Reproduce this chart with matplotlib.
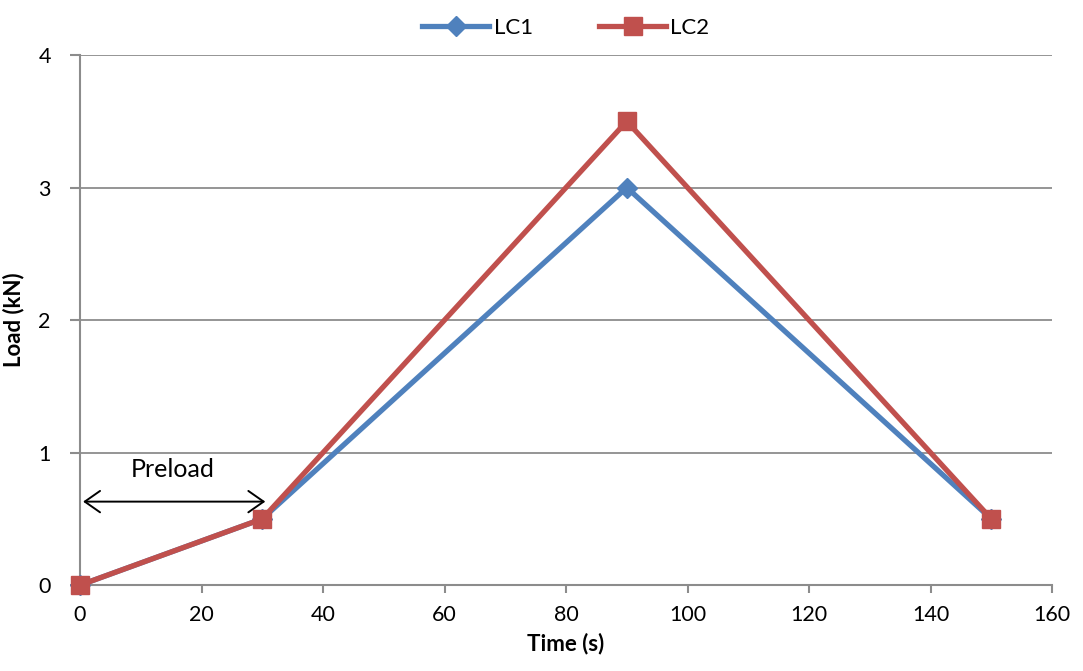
import matplotlib.pyplot as plt

time_s = [0, 30, 90, 150]
lc1_load = [0, 0.5, 3.0, 0.5]
lc2_load = [0, 0.5, 3.5, 0.5]
x_ticks = [0, 20, 40, 60, 80, 100, 120, 140, 160]
y_ticks = [0, 1, 2, 3, 4]

plt.rcParams['font.family'] = ['Lato', 'DejaVu Sans']

fig = plt.figure(figsize=(10.83, 6.71), dpi=100)
ax = fig.add_axes([0.0739, 0.128, 0.8975, 0.79])

blue = '#4F81BD'
red = '#C0504D'
grid_col = '#8C8C8C'

ax.plot(time_s, lc1_load, color=blue, lw=3.8, marker='D', ms=10, label='LC1', clip_on=False, zorder=3)
ax.plot(time_s, lc2_load, color=red, lw=3.8, marker='s', ms=13, label='LC2', clip_on=False, zorder=4)

ax.set_xlim(0, 160)
ax.set_ylim(0, 4)
ax.set_xticks(x_ticks)
ax.set_yticks(y_ticks)
ax.tick_params(axis='both', labelsize=15.5, color=grid_col, width=1.5, length=6, direction='out')
ax.tick_params(axis='x', pad=8)
ax.tick_params(axis='y', pad=14, length=7)
ax.yaxis.grid(True, color=grid_col, lw=1.3)
ax.set_axisbelow(True)

for s in ['top', 'right']:
    ax.spines[s].set_visible(False)
for s in ['left', 'bottom']:
    ax.spines[s].set_color(grid_col)
    ax.spines[s].set_linewidth(1.5)

ax.set_xlabel('Time (s)', fontsize=16, fontweight='bold', labelpad=6)
ax.set_ylabel('Load (kN)', fontsize=16, fontweight='bold', labelpad=10)

# preload span
ax.annotate('', xy=(0.5, 0.63), xytext=(30.5, 0.63),
            arrowprops=dict(arrowstyle='<->,head_length=0.5,head_width=0.35', color='black',
                            lw=1.4, mutation_scale=22, shrinkA=0, shrinkB=0))
ax.text(15.2, 0.87, 'Preload', fontsize=18, ha='center', va='center')

ax.legend(loc='lower center', bbox_to_anchor=(0.5, 0.995), ncol=2, frameon=False,
          fontsize=16, handlelength=3, columnspacing=3, handletextpad=0.2)

fig.savefig('out.png', dpi=100)
